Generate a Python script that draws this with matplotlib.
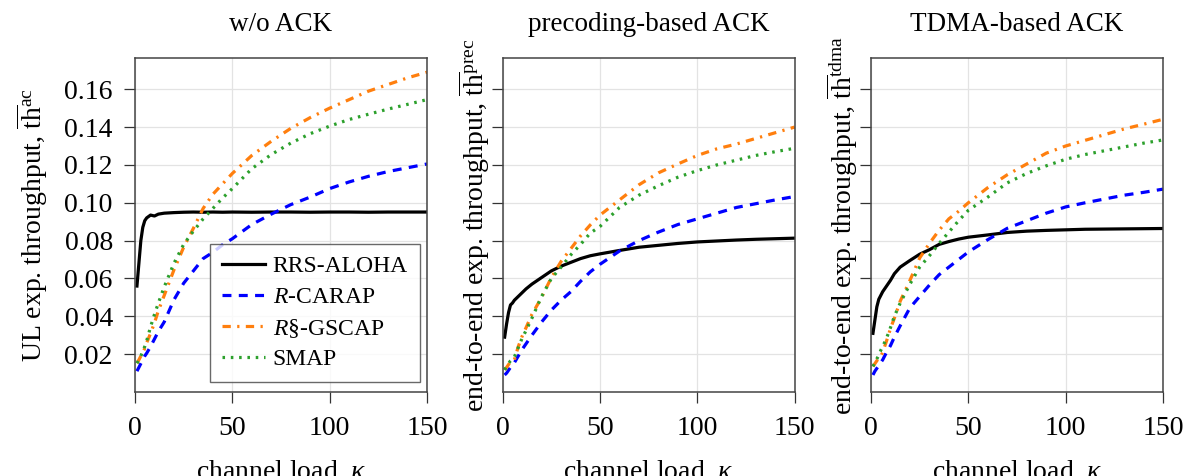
import matplotlib
matplotlib.use("Agg")
import matplotlib.pyplot as plt

plt.rcParams['font.family'] = ['Liberation Serif', 'DejaVu Serif']
plt.rcParams['mathtext.fontset'] = 'custom'
plt.rcParams['mathtext.rm'] = 'Liberation Serif'
plt.rcParams['mathtext.it'] = 'Liberation Serif:italic'
plt.rcParams['mathtext.bf'] = 'Liberation Serif:bold'

kappa = [1, 2, 3, 4, 5, 6, 8, 10, 12, 15, 20, 25, 30, 35, 40, 45, 50,
         60, 70, 80, 90, 100, 110, 120, 130, 140, 150]

# w/o ACK
ul_aloha = [0.056, 0.068, 0.080, 0.087, 0.0905, 0.092, 0.0935, 0.093, 0.094, 0.0945, 0.0948,
            0.0950, 0.0951, 0.0950, 0.0951, 0.0950, 0.0951, 0.0950, 0.0951, 0.0951, 0.0950,
            0.0951, 0.0951, 0.0950, 0.0951, 0.0951, 0.0951]
ul_carap = [0.011, 0.013, 0.015, 0.017, 0.019, 0.0205, 0.024, 0.028, 0.032, 0.037, 0.0487,
            0.0575, 0.064, 0.0705, 0.0738, 0.0778, 0.081, 0.0885, 0.094, 0.099, 0.103,
            0.1075, 0.111, 0.114, 0.1165, 0.1185, 0.1205]
ul_gscap = [0.0152, 0.017, 0.019, 0.021, 0.023, 0.026, 0.031, 0.0365, 0.043, 0.051, 0.0645,
            0.0765, 0.0865, 0.097, 0.1045, 0.110, 0.1155, 0.125, 0.1325, 0.1393, 0.145,
            0.150, 0.1545, 0.159, 0.1625, 0.166, 0.169]
ul_smap = [0.0152, 0.017, 0.019, 0.0215, 0.024, 0.027, 0.0345, 0.041, 0.047, 0.0555, 0.068,
           0.078, 0.085, 0.0915, 0.097, 0.1025, 0.1075, 0.118, 0.1255, 0.1315, 0.1365,
           0.1405, 0.144, 0.1468, 0.1495, 0.152, 0.1545]

# precoding-based ACK
prec_aloha = [0.029, 0.036, 0.042, 0.046, 0.047, 0.0485, 0.0505, 0.0525, 0.0545, 0.057, 0.0605,
              0.064, 0.0665, 0.0685, 0.0705, 0.072, 0.073, 0.0748, 0.0765, 0.0775, 0.0785,
              0.0793, 0.0798, 0.0803, 0.0807, 0.081, 0.0813]
prec_carap = [0.009, 0.010, 0.0115, 0.013, 0.0145, 0.0155, 0.019, 0.0225, 0.0255, 0.030, 0.037,
              0.0433, 0.0485, 0.053, 0.0585, 0.0635, 0.0675, 0.0745, 0.080, 0.0845, 0.0885,
              0.0915, 0.0945, 0.0975, 0.0995, 0.1015, 0.1033]
prec_gscap = [0.0117, 0.013, 0.0145, 0.016, 0.0162, 0.017, 0.024, 0.0295, 0.034, 0.041, 0.050,
              0.0605, 0.069, 0.0757, 0.0825, 0.0883, 0.0935, 0.1015, 0.1095, 0.1158, 0.1205,
              0.125, 0.1285, 0.131, 0.134, 0.137, 0.140]
prec_smap = [0.0117, 0.0135, 0.015, 0.0165, 0.0175, 0.0185, 0.0235, 0.0285, 0.0325, 0.039, 0.0505,
             0.060, 0.066, 0.0725, 0.078, 0.084, 0.0875, 0.0975, 0.104, 0.109, 0.1135,
             0.117, 0.120, 0.1225, 0.125, 0.127, 0.1288]

# TDMA-based ACK
tdma_aloha = [0.031, 0.038, 0.045, 0.049, 0.051, 0.053, 0.056, 0.059, 0.0625, 0.066, 0.0695,
              0.0728, 0.0752, 0.078, 0.0795, 0.0808, 0.0818, 0.083, 0.0843, 0.085, 0.0854,
              0.0857, 0.086, 0.0861, 0.0862, 0.0863, 0.0864]
tdma_carap = [0.009, 0.011, 0.0125, 0.014, 0.0155, 0.017, 0.021, 0.0245, 0.029, 0.035, 0.0445,
              0.0505, 0.0565, 0.062, 0.066, 0.070, 0.074, 0.0805, 0.0865, 0.0905, 0.0945,
              0.0978, 0.100, 0.102, 0.104, 0.1055, 0.1072]
tdma_gscap = [0.0135, 0.015, 0.0165, 0.018, 0.0188, 0.021, 0.027, 0.0335, 0.039, 0.048, 0.059,
              0.0708, 0.0785, 0.0855, 0.0915, 0.0955, 0.100, 0.108, 0.1148, 0.1205, 0.1262,
              0.130, 0.133, 0.136, 0.139, 0.1415, 0.1441]
tdma_smap = [0.0135, 0.0155, 0.0175, 0.0195, 0.022, 0.024, 0.0285, 0.034, 0.040, 0.047, 0.057,
             0.066, 0.072, 0.0785, 0.0845, 0.0905, 0.096, 0.103, 0.1105, 0.1155, 0.1195,
             0.123, 0.1255, 0.1275, 0.1295, 0.1315, 0.1332]

titles = ["w/o ACK", "precoding-based ACK", "TDMA-based ACK"]
ylabels = [r"UL exp. throughput, $\overline{\mathrm{th}}^{\mathrm{ac}}$",
           r"end-to-end exp. throughput, $\overline{\mathrm{th}}^{\mathrm{prec}}$",
           r"end-to-end exp. throughput, $\overline{\mathrm{th}}^{\mathrm{tdma}}$"]
labels = ["RRS-ALOHA", "$R$-CARAP", "$R$§-GSCAP", "SMAP"]
yticks = [0.02, 0.04, 0.06, 0.08, 0.10, 0.12, 0.14, 0.16]
ytick_labels = ["0.02", "0.04", "0.06", "0.08", "0.10", "0.12", "0.14", "0.16"]
xticks = [0, 50, 100, 150]

panels = [
    [ul_aloha, ul_carap, ul_gscap, ul_smap],
    [prec_aloha, prec_carap, prec_gscap, prec_smap],
    [tdma_aloha, tdma_carap, tdma_gscap, tdma_smap],
]

styles = [
    dict(color="black", linestyle="-", linewidth=2.3),
    dict(color="#0000ff", linestyle=(0, (2.8, 2.3)), linewidth=2.3),
    dict(color="#ff7f0e", linestyle=(0, (2.6, 2.0, 0.7, 2.0)), linewidth=2.3),
    dict(color="#2ca02c", linestyle=(0, (0.8, 1.8)), linewidth=2.3),
]

fig = plt.figure(figsize=(11.89, 4.76), dpi=100)
lefts = [135 / 1189, 502.7 / 1189, 871 / 1189]
fs = 20

for i, series in enumerate(panels):
    ax = fig.add_axes([lefts[i], 84 / 476, 292 / 1189, 334 / 476])
    for ys, st, lab in zip(series, styles, labels):
        ax.plot(kappa, ys, label=lab, **st)
    ax.set_xlim(0, 150)
    ax.set_ylim(0, 0.1765)
    ax.set_xticks(xticks)
    ax.set_yticks(yticks)
    if i == 0:
        ax.set_yticklabels(ytick_labels)
    else:
        ax.set_yticklabels([])
    ax.grid(True, color="#e3e3e3", linewidth=0.9)
    ax.set_axisbelow(True)
    ax.tick_params(direction="out", length=8, width=0.9, pad=8, labelsize=fs,
                   color="#333333")
    ax.tick_params(axis="x", pad=9)
    for sp in ax.spines.values():
        sp.set_color("#444444")
        sp.set_linewidth(1.1)
    ax.set_title(titles[i], fontsize=19.5, pad=19.5)
    ax.set_xlabel(r"channel load, $\kappa$", fontsize=fs, labelpad=13)
    ax.set_ylabel(ylabels[i], fontsize=fs, labelpad=10 if i == 0 else -8)
    if i == 0:
        leg = ax.legend(loc="lower right", bbox_to_anchor=(0.975, 0.03), fontsize=17,
                        handlelength=1.8, handletextpad=0.35, borderpad=0.5,
                        labelspacing=0.38, borderaxespad=0.0,
                        fancybox=False, edgecolor="#444444", framealpha=0.8)
        leg.get_frame().set_linewidth(1.0)

fig.savefig("out.png", dpi=100)
